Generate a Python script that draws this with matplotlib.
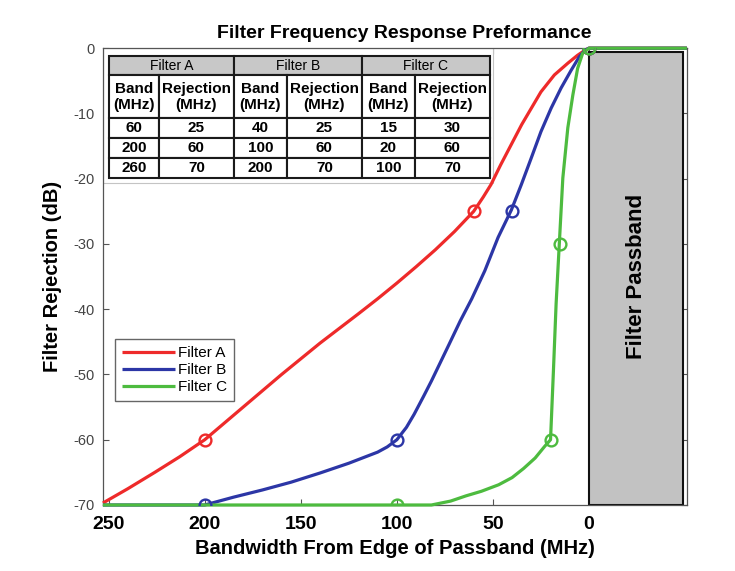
import matplotlib
matplotlib.use("Agg")
import matplotlib.pyplot as plt
from matplotlib.patches import Rectangle

plt.rcParams["font.family"] = ["Liberation Sans", "DejaVu Sans"]
plt.rcParams["axes.unicode_minus"] = False

# table values (band MHz -> rejection dB)
band_a, rej_a = [60, 200, 260], [25, 60, 70]
band_b, rej_b = [40, 100, 200], [25, 60, 70]
band_c, rej_c = [15, 20, 100], [30, 60, 70]

# curves
red_x = [253, 240, 226, 213, 200, 180, 160, 140, 120, 110, 100, 90, 80, 70, 60, 55, 51, 46, 40.5, 35, 30,
         25, 18, 11, 6, 2, 0, -51]
red_y = [-69.7, -67.5, -65, -62.6, -60, -55, -50, -45.2, -40.7, -38.4, -36, -33.5, -30.9, -28.1, -25,
         -22.8, -20.9, -17.9, -14.8, -11.7, -9.2, -6.7, -4.1, -2.3, -1.1, -0.3, 0, 0]
blue_x = [253, 200, 185, 170, 155, 140, 125, 110, 105, 100, 95, 91, 86, 82, 73, 67, 61, 54.2, 47.3, 40.4,
          35.2, 30, 25, 19.7, 14.5, 9.3, 5, 2, 0, -51]
blue_y = [-70, -70, -68.8, -67.7, -66.5, -65.1, -63.6, -61.9, -61.1, -60, -58.1, -56.1, -53.3, -51, -45.5,
          -41.8, -38.4, -34.1, -29, -24.8, -20.9, -16.8, -12.8, -9.2, -6.1, -3.4, -1.3, -0.3, 0, 0]
green_x = [253, 100, 82, 72, 64, 56, 47, 40, 34, 28, 23, 20, 18.5, 17.1, 15.4, 13.6, 11, 8.4, 5.9, 3.3, 0, -51]
green_y = [-70, -70, -70, -69.4, -68.6, -67.9, -66.9, -65.8, -64.4, -62.8, -61, -60, -49.5, -39.2, -29.8,
           -19.9, -12.2, -7.2, -3.1, -0.8, 0, 0]

names = ["Filter A", "Filter B", "Filter C"]
colors = ["#ee2a2a", "#2c36a6", "#4dbb3f"]

fig = plt.figure(figsize=(7.35, 5.71), dpi=100)
ax = fig.add_axes([0.140, 0.1156, 0.7946, 0.800])

ax.add_patch(Rectangle((0, -70), -49, 69.4, facecolor="#c2c2c2", edgecolor="#111111", lw=1.5, zorder=2))
ax.text(-24.5, -35, "Filter Passband", rotation=90, ha="center", va="center",
        fontsize=16, fontweight="bold", zorder=3)

curves = [(red_x, red_y), (blue_x, blue_y), (green_x, green_y)]
for (xs, ys), name, c in zip(curves, names, colors):
    ax.plot(xs, ys, color=c, lw=2.3, label=name, zorder=3, clip_on=False, solid_capstyle="butt")

for bands, rejs, c in zip([band_a, band_b, band_c], [rej_a, rej_b, rej_c], colors):
    ax.plot([0] + bands, [0] + [-r for r in rejs], "o", color=c, ms=8.5, mfc="none", mew=1.7, zorder=4)

ax.set_xlim(253, -51)
ax.set_ylim(-70, 0)
ax.set_xticks([250, 200, 150, 100, 50, 0])
ax.set_yticks([-70, -60, -50, -40, -30, -20, -10, 0])
ax.tick_params(direction="in", length=4, width=0.8, color="#555555", top=True, right=True)
ax.tick_params(axis="x", labelsize=14, pad=8)
ax.tick_params(axis="y", labelsize=10.5, labelcolor="#444444", pad=6)
for t in ax.get_xticklabels():
    t.set_fontweight("bold")
for s in ax.spines.values():
    s.set_color("#555555")
    s.set_linewidth(0.9)

ax.set_title("Filter Frequency Response Preformance", fontsize=14, fontweight="bold", x=0.516, pad=7.5)
ax.set_xlabel("Bandwidth From Edge of Passband (MHz)", fontsize=14.5, fontweight="bold", labelpad=4)
ax.set_ylabel("Filter Rejection (dB)", fontsize=14.5, fontweight="bold", labelpad=8)

# table with the band / rejection values
ax.add_patch(Rectangle((0, 0.705), 0.668, 0.295, transform=ax.transAxes, facecolor="white",
                       edgecolor="#c4c4c4", lw=0.8, zorder=2.5))
hdr = ax.table(cellText=[names], colWidths=[125, 128, 128], cellLoc="center",
               bbox=[0.0103, 0.9409, 0.6524, 0.0416])
hdr.auto_set_font_size(False)
hdr.set_zorder(5)
for cell in hdr.get_celld().values():
    cell.set_facecolor("#c8c8c8")
    cell.set_edgecolor("#1a1a1a")
    cell.set_linewidth(1.5)
    cell.get_text().set_fontsize(10)

rows = [["Band\n(MHz)", "Rejection\n(MHz)"] * 3]
for i in range(3):
    rows.append([str(band_a[i]), str(rej_a[i]), str(band_b[i]), str(rej_b[i]), str(band_c[i]), str(rej_c[i])])
body = ax.table(cellText=rows, colWidths=[50, 75, 53, 75, 53, 75], cellLoc="center",
                bbox=[0.0103, 0.7155, 0.6524, 0.2254])
body.auto_set_font_size(False)
body.set_zorder(5)
for (r, c), cell in body.get_celld().items():
    cell.set_height(43 if r == 0 else 20)
    cell.set_edgecolor("#1a1a1a")
    cell.set_linewidth(1.5)
    cell.get_text().set_fontsize(11)
    cell.get_text().set_fontweight("bold")

leg = ax.legend(loc="lower left", bbox_to_anchor=(0.0205, 0.2276), fontsize=11, handlelength=3.5,
                handletextpad=0.15, labelspacing=0.2, borderpad=0.45, borderaxespad=0,
                fancybox=False, edgecolor="#666666", framealpha=1)
leg.get_frame().set_linewidth(1)

fig.savefig("out.png", dpi=100)
